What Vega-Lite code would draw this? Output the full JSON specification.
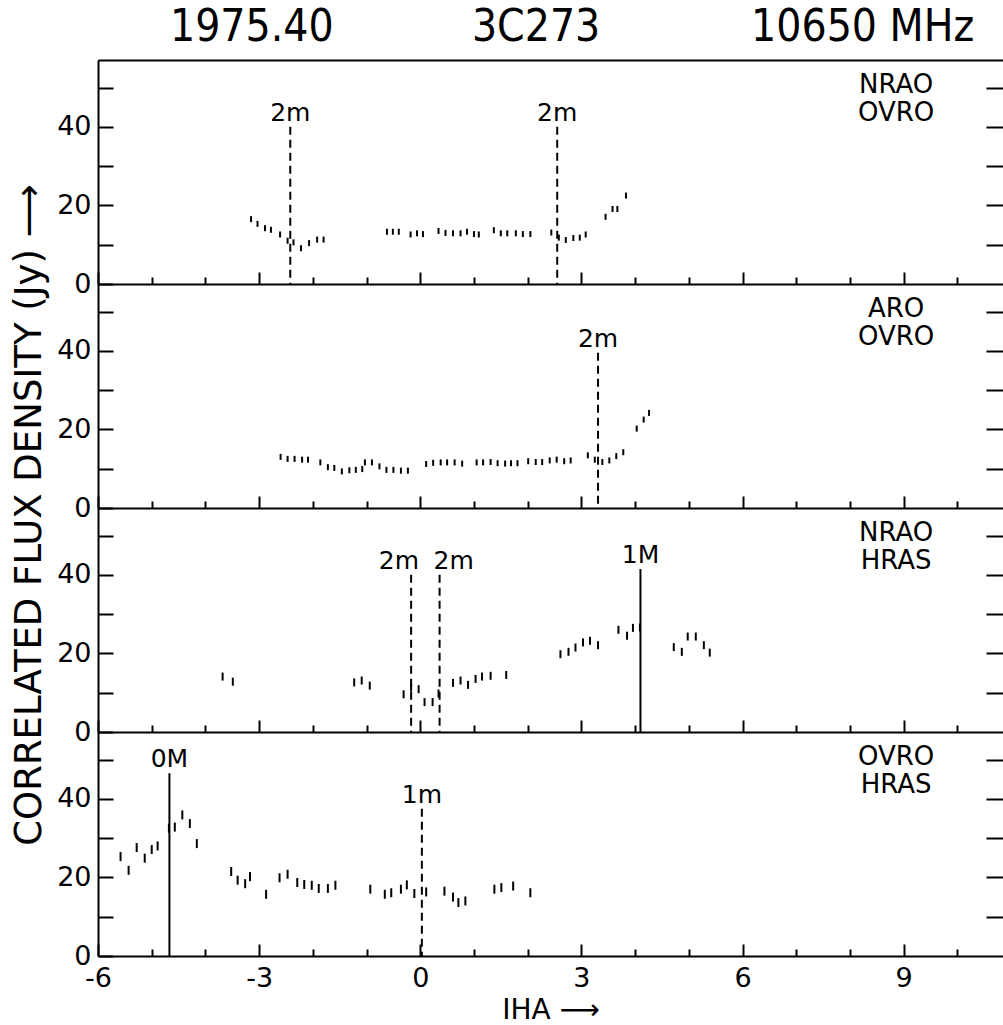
{
  "$schema": "https://vega.github.io/schema/vega-lite/v6.json",
  "padding": {"left": 10, "top": 6, "right": 0, "bottom": 0},
  "background": "white",
  "title": {"text": "CORRELATED FLUX DENSITY (Jy) \u27f6", "orient": "left", "anchor": "middle", "frame": "bounds", "fontSize": 37, "font": "DejaVu Sans", "fontWeight": "normal", "color": "black", "offset": 8},
  "spacing": 0,
  "bounds": "flush",
  "vconcat": [
    {
      "title": {"text": "1975.40\u00a0\u00a0\u00a0\u00a0\u00a0\u00a0\u00a0\u00a0\u00a0\u00a0\u00a03C273\u00a0\u00a0\u00a0\u00a0\u00a0\u00a0\u00a0\u00a0\u00a0\u00a0\u00a0\u00a010650 MHz", "anchor": "start", "frame": "group", "fontSize": 44, "font": "DejaVu Sans Condensed, DejaVu Sans", "fontWeight": "normal", "color": "black", "offset": 10, "dx": 72},
      "width": 905, "height": 224,
      "layer": [
        {"data": {"name": "obs"}, "transform": [{"filter": {"field": "baseline", "equal": "NRAO-OVRO"}}],
         "mark": {"type": "tick", "orient": "vertical", "size": 6, "thickness": 2, "color": "black", "opacity": 1},
         "encoding": {
           "x": {"field": "iha", "type": "quantitative", "scale": {"domain": [-6, 10.85], "nice": false, "zero": false},
                 "axis": {"orient": "bottom", "values": [-6,-5,-4,-3,-2,-1,0,1,2,3,4,5,6,7,8,9,10], "tickSize": {"condition": {"test": "datum.value % 3 === 0", "value": -12}, "value": -7}, "labels": false, "title": null}},
           "y": {"field": "jy", "type": "quantitative", "scale": {"domain": [0, 57], "nice": false},
                 "axis": {"orient": "left", "values": [0,10,20,30,40,50], "tickSize": -15, "labelExpr": "datum.value % 20 === 0 ? '' + datum.value : ''", "labelPadding": 22, "title": null}}
         }},
        {"data": {"name": "markers"}, "transform": [{"filter": {"field": "baseline", "equal": "NRAO-OVRO"}}],
         "mark": {"type": "rule", "strokeWidth": 2, "color": "black"},
         "encoding": {
           "x": {"field": "iha", "type": "quantitative", "axis": {"orient": "top", "ticks": false, "labels": false, "domain": true, "title": null}},
           "y": {"field": "top", "type": "quantitative", "axis": {"orient": "right", "values": [10,20,30,40,50], "tickSize": -17, "labels": false, "domain": false, "title": null}},
           "y2": {"datum": 0},
           "strokeDash": {"field": "kind", "type": "nominal", "scale": {"domain": ["minor", "major"], "range": [[8, 5], [1, 0]]}, "legend": null}
         }},
        {"data": {"name": "markers"}, "transform": [{"filter": {"field": "baseline", "equal": "NRAO-OVRO"}}],
         "mark": {"type": "text", "baseline": "alphabetic", "dy": -6, "fontSize": 25, "font": "DejaVu Sans", "color": "black"},
         "encoding": {"x": {"field": "iha", "type": "quantitative", "axis": null}, "y": {"field": "top", "type": "quantitative", "axis": null}, "text": {"field": "label"}}},
        {"data": {"values": [{"stations": "NRAO\nOVRO"}]},
         "mark": {"type": "text", "align": "center", "baseline": "top", "lineBreak": "\n", "lineHeight": 28, "fontSize": 26, "font": "DejaVu Sans", "color": "black"},
         "encoding": {"x": {"datum": 8.86, "axis": null}, "y": {"datum": 54, "axis": null}, "text": {"field": "stations"}}}
      ],
      "resolve": {"axis": {"x": "independent", "y": "independent"}}
    },
    {
      "width": 905, "height": 224,
      "layer": [
        {"data": {"name": "obs"}, "transform": [{"filter": {"field": "baseline", "equal": "ARO-OVRO"}}],
         "mark": {"type": "tick", "orient": "vertical", "size": 6, "thickness": 2, "color": "black", "opacity": 1},
         "encoding": {
           "x": {"field": "iha", "type": "quantitative", "scale": {"domain": [-6, 10.85], "nice": false, "zero": false},
                 "axis": {"orient": "bottom", "values": [-6,-5,-4,-3,-2,-1,0,1,2,3,4,5,6,7,8,9,10], "tickSize": {"condition": {"test": "datum.value % 3 === 0", "value": -12}, "value": -7}, "labels": false, "title": null}},
           "y": {"field": "jy", "type": "quantitative", "scale": {"domain": [0, 57], "nice": false},
                 "axis": {"orient": "left", "values": [0,10,20,30,40,50], "tickSize": -15, "labelExpr": "datum.value % 20 === 0 ? '' + datum.value : ''", "labelPadding": 22, "title": null}}
         }},
        {"data": {"name": "markers"}, "transform": [{"filter": {"field": "baseline", "equal": "ARO-OVRO"}}],
         "mark": {"type": "rule", "strokeWidth": 2, "color": "black"},
         "encoding": {
           "x": {"field": "iha", "type": "quantitative", "axis": null},
           "y": {"field": "top", "type": "quantitative", "axis": {"orient": "right", "values": [10,20,30,40,50], "tickSize": -17, "labels": false, "domain": false, "title": null}},
           "y2": {"datum": 0},
           "strokeDash": {"field": "kind", "type": "nominal", "scale": {"domain": ["minor", "major"], "range": [[8, 5], [1, 0]]}, "legend": null}
         }},
        {"data": {"name": "markers"}, "transform": [{"filter": {"field": "baseline", "equal": "ARO-OVRO"}}],
         "mark": {"type": "text", "baseline": "alphabetic", "dy": -6, "fontSize": 25, "font": "DejaVu Sans", "color": "black"},
         "encoding": {"x": {"field": "iha", "type": "quantitative", "axis": null}, "y": {"field": "top", "type": "quantitative", "axis": null}, "text": {"field": "label"}}},
        {"data": {"values": [{"stations": "ARO\nOVRO"}]},
         "mark": {"type": "text", "align": "center", "baseline": "top", "lineBreak": "\n", "lineHeight": 28, "fontSize": 26, "font": "DejaVu Sans", "color": "black"},
         "encoding": {"x": {"datum": 8.86, "axis": null}, "y": {"datum": 54, "axis": null}, "text": {"field": "stations"}}}
      ],
      "resolve": {"axis": {"x": "independent", "y": "independent"}}
    },
    {
      "width": 905, "height": 224,
      "layer": [
        {"data": {"name": "obs"}, "transform": [{"filter": {"field": "baseline", "equal": "NRAO-HRAS"}}],
         "mark": {"type": "tick", "orient": "vertical", "size": 8, "thickness": 2, "color": "black", "opacity": 1},
         "encoding": {
           "x": {"field": "iha", "type": "quantitative", "scale": {"domain": [-6, 10.85], "nice": false, "zero": false},
                 "axis": {"orient": "bottom", "values": [-6,-5,-4,-3,-2,-1,0,1,2,3,4,5,6,7,8,9,10], "tickSize": {"condition": {"test": "datum.value % 3 === 0", "value": -12}, "value": -7}, "labels": false, "title": null}},
           "y": {"field": "jy", "type": "quantitative", "scale": {"domain": [0, 57], "nice": false},
                 "axis": {"orient": "left", "values": [0,10,20,30,40,50], "tickSize": -15, "labelExpr": "datum.value % 20 === 0 ? '' + datum.value : ''", "labelPadding": 22, "title": null}}
         }},
        {"data": {"name": "markers"}, "transform": [{"filter": {"field": "baseline", "equal": "NRAO-HRAS"}}],
         "mark": {"type": "rule", "strokeWidth": 2, "color": "black"},
         "encoding": {
           "x": {"field": "iha", "type": "quantitative", "axis": null},
           "y": {"field": "top", "type": "quantitative", "axis": {"orient": "right", "values": [10,20,30,40,50], "tickSize": -17, "labels": false, "domain": false, "title": null}},
           "y2": {"datum": 0},
           "strokeDash": {"field": "kind", "type": "nominal", "scale": {"domain": ["minor", "major"], "range": [[8, 5], [1, 0]]}, "legend": null}
         }},
        {"data": {"name": "markers"}, "transform": [{"filter": {"field": "baseline", "equal": "NRAO-HRAS"}}, {"filter": "datum.iha < 0"}],
         "mark": {"type": "text", "align": "right", "dx": 8, "baseline": "alphabetic", "dy": -6, "fontSize": 25, "font": "DejaVu Sans", "color": "black"},
         "encoding": {"x": {"field": "iha", "type": "quantitative", "axis": null}, "y": {"field": "top", "type": "quantitative", "axis": null}, "text": {"field": "label"}}},
        {"data": {"name": "markers"}, "transform": [{"filter": {"field": "baseline", "equal": "NRAO-HRAS"}}, {"filter": "datum.iha >= 0 && datum.iha < 1"}],
         "mark": {"type": "text", "align": "left", "dx": -6, "baseline": "alphabetic", "dy": -6, "fontSize": 25, "font": "DejaVu Sans", "color": "black"},
         "encoding": {"x": {"field": "iha", "type": "quantitative", "axis": null}, "y": {"field": "top", "type": "quantitative", "axis": null}, "text": {"field": "label"}}},
        {"data": {"name": "markers"}, "transform": [{"filter": {"field": "baseline", "equal": "NRAO-HRAS"}}, {"filter": "datum.iha >= 1"}],
         "mark": {"type": "text", "baseline": "alphabetic", "dy": -6, "fontSize": 25, "font": "DejaVu Sans", "color": "black"},
         "encoding": {"x": {"field": "iha", "type": "quantitative", "axis": null}, "y": {"field": "top", "type": "quantitative", "axis": null}, "text": {"field": "label"}}},
        {"data": {"values": [{"stations": "NRAO\nHRAS"}]},
         "mark": {"type": "text", "align": "center", "baseline": "top", "lineBreak": "\n", "lineHeight": 28, "fontSize": 26, "font": "DejaVu Sans", "color": "black"},
         "encoding": {"x": {"datum": 8.86, "axis": null}, "y": {"datum": 54, "axis": null}, "text": {"field": "stations"}}}
      ],
      "resolve": {"axis": {"x": "independent", "y": "independent"}}
    },
    {
      "width": 905, "height": 224,
      "layer": [
        {"data": {"name": "obs"}, "transform": [{"filter": {"field": "baseline", "equal": "OVRO-HRAS"}}],
         "mark": {"type": "tick", "orient": "vertical", "size": 9, "thickness": 2, "color": "black", "opacity": 1},
         "encoding": {
           "x": {"field": "iha", "type": "quantitative", "scale": {"domain": [-6, 10.85], "nice": false, "zero": false},
                 "axis": {"orient": "bottom", "values": [-6,-5,-4,-3,-2,-1,0,1,2,3,4,5,6,7,8,9,10], "tickSize": {"condition": {"test": "datum.value % 3 === 0", "value": -12}, "value": -7}, "labels": true, "labelExpr": "datum.value % 3 === 0 ? '' + datum.value : ''", "labelFlush": false, "labelOverlap": false, "labelPadding": 21, "title": "IHA \u27f6", "titlePadding": 0, "titleFontSize": 28, "titleFont": "DejaVu Sans"}},
           "y": {"field": "jy", "type": "quantitative", "scale": {"domain": [0, 57], "nice": false},
                 "axis": {"orient": "left", "values": [0,10,20,30,40,50], "tickSize": -15, "labelExpr": "datum.value % 20 === 0 ? '' + datum.value : ''", "labelPadding": 22, "title": null}}
         }},
        {"data": {"name": "markers"}, "transform": [{"filter": {"field": "baseline", "equal": "OVRO-HRAS"}}],
         "mark": {"type": "rule", "strokeWidth": 2, "color": "black"},
         "encoding": {
           "x": {"field": "iha", "type": "quantitative", "axis": null},
           "y": {"field": "top", "type": "quantitative", "axis": {"orient": "right", "values": [10,20,30,40,50], "tickSize": -17, "labels": false, "domain": false, "title": null}},
           "y2": {"datum": 0},
           "strokeDash": {"field": "kind", "type": "nominal", "scale": {"domain": ["minor", "major"], "range": [[8, 5], [1, 0]]}, "legend": null}
         }},
        {"data": {"name": "markers"}, "transform": [{"filter": {"field": "baseline", "equal": "OVRO-HRAS"}}],
         "mark": {"type": "text", "baseline": "alphabetic", "dy": -6, "fontSize": 25, "font": "DejaVu Sans", "color": "black"},
         "encoding": {"x": {"field": "iha", "type": "quantitative", "axis": null}, "y": {"field": "top", "type": "quantitative", "axis": null}, "text": {"field": "label"}}},
        {"data": {"values": [{"stations": "OVRO\nHRAS"}]},
         "mark": {"type": "text", "align": "center", "baseline": "top", "lineBreak": "\n", "lineHeight": 28, "fontSize": 26, "font": "DejaVu Sans", "color": "black"},
         "encoding": {"x": {"datum": 8.86, "axis": null}, "y": {"datum": 54, "axis": null}, "text": {"field": "stations"}}}
      ],
      "resolve": {"axis": {"x": "independent", "y": "independent"}}
    }
  ],
  "datasets": {
    "obs": [
      {"baseline": "NRAO-OVRO", "iha": -3.15, "jy": 16.5},
      {"baseline": "NRAO-OVRO", "iha": -3.03, "jy": 15.3},
      {"baseline": "NRAO-OVRO", "iha": -2.89, "jy": 14.2},
      {"baseline": "NRAO-OVRO", "iha": -2.78, "jy": 13.8},
      {"baseline": "NRAO-OVRO", "iha": -2.61, "jy": 12.6},
      {"baseline": "NRAO-OVRO", "iha": -2.47, "jy": 11.0},
      {"baseline": "NRAO-OVRO", "iha": -2.36, "jy": 10.6},
      {"baseline": "NRAO-OVRO", "iha": -2.22, "jy": 9.1},
      {"baseline": "NRAO-OVRO", "iha": -2.07, "jy": 10.4},
      {"baseline": "NRAO-OVRO", "iha": -1.92, "jy": 11.3},
      {"baseline": "NRAO-OVRO", "iha": -1.80, "jy": 11.3},
      {"baseline": "NRAO-OVRO", "iha": -0.62, "jy": 13.3},
      {"baseline": "NRAO-OVRO", "iha": -0.51, "jy": 13.3},
      {"baseline": "NRAO-OVRO", "iha": -0.40, "jy": 13.3},
      {"baseline": "NRAO-OVRO", "iha": -0.18, "jy": 12.6},
      {"baseline": "NRAO-OVRO", "iha": -0.06, "jy": 12.9},
      {"baseline": "NRAO-OVRO", "iha": 0.05, "jy": 12.7},
      {"baseline": "NRAO-OVRO", "iha": 0.34, "jy": 13.5},
      {"baseline": "NRAO-OVRO", "iha": 0.47, "jy": 13.0},
      {"baseline": "NRAO-OVRO", "iha": 0.61, "jy": 12.9},
      {"baseline": "NRAO-OVRO", "iha": 0.75, "jy": 12.9},
      {"baseline": "NRAO-OVRO", "iha": 0.87, "jy": 13.3},
      {"baseline": "NRAO-OVRO", "iha": 1.00, "jy": 12.7},
      {"baseline": "NRAO-OVRO", "iha": 1.09, "jy": 12.6},
      {"baseline": "NRAO-OVRO", "iha": 1.37, "jy": 13.7},
      {"baseline": "NRAO-OVRO", "iha": 1.50, "jy": 12.9},
      {"baseline": "NRAO-OVRO", "iha": 1.62, "jy": 12.9},
      {"baseline": "NRAO-OVRO", "iha": 1.78, "jy": 12.9},
      {"baseline": "NRAO-OVRO", "iha": 1.91, "jy": 12.7},
      {"baseline": "NRAO-OVRO", "iha": 2.05, "jy": 12.7},
      {"baseline": "NRAO-OVRO", "iha": 2.44, "jy": 13.1},
      {"baseline": "NRAO-OVRO", "iha": 2.58, "jy": 11.8},
      {"baseline": "NRAO-OVRO", "iha": 2.71, "jy": 11.2},
      {"baseline": "NRAO-OVRO", "iha": 2.85, "jy": 11.7},
      {"baseline": "NRAO-OVRO", "iha": 2.97, "jy": 11.8},
      {"baseline": "NRAO-OVRO", "iha": 3.08, "jy": 12.6},
      {"baseline": "NRAO-OVRO", "iha": 3.45, "jy": 17.1},
      {"baseline": "NRAO-OVRO", "iha": 3.58, "jy": 19.1},
      {"baseline": "NRAO-OVRO", "iha": 3.67, "jy": 19.1},
      {"baseline": "NRAO-OVRO", "iha": 3.83, "jy": 22.5},
      {"baseline": "ARO-OVRO", "iha": -2.60, "jy": 13.0},
      {"baseline": "ARO-OVRO", "iha": -2.47, "jy": 12.5},
      {"baseline": "ARO-OVRO", "iha": -2.34, "jy": 12.5},
      {"baseline": "ARO-OVRO", "iha": -2.20, "jy": 12.3},
      {"baseline": "ARO-OVRO", "iha": -2.09, "jy": 12.3},
      {"baseline": "ARO-OVRO", "iha": -1.86, "jy": 11.6},
      {"baseline": "ARO-OVRO", "iha": -1.72, "jy": 10.4},
      {"baseline": "ARO-OVRO", "iha": -1.60, "jy": 10.2},
      {"baseline": "ARO-OVRO", "iha": -1.46, "jy": 9.3},
      {"baseline": "ARO-OVRO", "iha": -1.32, "jy": 9.6},
      {"baseline": "ARO-OVRO", "iha": -1.20, "jy": 9.7},
      {"baseline": "ARO-OVRO", "iha": -1.08, "jy": 9.9},
      {"baseline": "ARO-OVRO", "iha": -1.03, "jy": 11.6},
      {"baseline": "ARO-OVRO", "iha": -0.90, "jy": 11.6},
      {"baseline": "ARO-OVRO", "iha": -0.76, "jy": 10.6},
      {"baseline": "ARO-OVRO", "iha": -0.63, "jy": 9.7},
      {"baseline": "ARO-OVRO", "iha": -0.50, "jy": 9.7},
      {"baseline": "ARO-OVRO", "iha": -0.36, "jy": 9.5},
      {"baseline": "ARO-OVRO", "iha": -0.23, "jy": 9.5},
      {"baseline": "ARO-OVRO", "iha": 0.11, "jy": 11.2},
      {"baseline": "ARO-OVRO", "iha": 0.24, "jy": 11.5},
      {"baseline": "ARO-OVRO", "iha": 0.38, "jy": 11.6},
      {"baseline": "ARO-OVRO", "iha": 0.50, "jy": 11.6},
      {"baseline": "ARO-OVRO", "iha": 0.64, "jy": 11.6},
      {"baseline": "ARO-OVRO", "iha": 0.78, "jy": 11.3},
      {"baseline": "ARO-OVRO", "iha": 1.05, "jy": 11.6},
      {"baseline": "ARO-OVRO", "iha": 1.17, "jy": 11.6},
      {"baseline": "ARO-OVRO", "iha": 1.31, "jy": 11.7},
      {"baseline": "ARO-OVRO", "iha": 1.44, "jy": 11.4},
      {"baseline": "ARO-OVRO", "iha": 1.58, "jy": 11.3},
      {"baseline": "ARO-OVRO", "iha": 1.69, "jy": 11.4},
      {"baseline": "ARO-OVRO", "iha": 1.81, "jy": 11.4},
      {"baseline": "ARO-OVRO", "iha": 2.01, "jy": 11.9},
      {"baseline": "ARO-OVRO", "iha": 2.15, "jy": 11.7},
      {"baseline": "ARO-OVRO", "iha": 2.27, "jy": 11.7},
      {"baseline": "ARO-OVRO", "iha": 2.41, "jy": 12.1},
      {"baseline": "ARO-OVRO", "iha": 2.54, "jy": 12.3},
      {"baseline": "ARO-OVRO", "iha": 2.68, "jy": 11.9},
      {"baseline": "ARO-OVRO", "iha": 2.80, "jy": 12.1},
      {"baseline": "ARO-OVRO", "iha": 3.12, "jy": 13.4},
      {"baseline": "ARO-OVRO", "iha": 3.25, "jy": 12.3},
      {"baseline": "ARO-OVRO", "iha": 3.39, "jy": 11.7},
      {"baseline": "ARO-OVRO", "iha": 3.52, "jy": 12.1},
      {"baseline": "ARO-OVRO", "iha": 3.65, "jy": 13.2},
      {"baseline": "ARO-OVRO", "iha": 3.78, "jy": 14.2},
      {"baseline": "ARO-OVRO", "iha": 4.03, "jy": 20.2},
      {"baseline": "ARO-OVRO", "iha": 4.16, "jy": 22.5},
      {"baseline": "ARO-OVRO", "iha": 4.26, "jy": 24.2},
      {"baseline": "NRAO-HRAS", "iha": -3.68, "jy": 14.1},
      {"baseline": "NRAO-HRAS", "iha": -3.49, "jy": 12.8},
      {"baseline": "NRAO-HRAS", "iha": -1.23, "jy": 12.6},
      {"baseline": "NRAO-HRAS", "iha": -1.09, "jy": 13.1},
      {"baseline": "NRAO-HRAS", "iha": -0.94, "jy": 11.8},
      {"baseline": "NRAO-HRAS", "iha": -0.31, "jy": 9.6},
      {"baseline": "NRAO-HRAS", "iha": -0.17, "jy": 11.3},
      {"baseline": "NRAO-HRAS", "iha": -0.03, "jy": 10.9},
      {"baseline": "NRAO-HRAS", "iha": 0.08, "jy": 7.6},
      {"baseline": "NRAO-HRAS", "iha": 0.23, "jy": 7.6},
      {"baseline": "NRAO-HRAS", "iha": 0.34, "jy": 9.8},
      {"baseline": "NRAO-HRAS", "iha": 0.61, "jy": 12.5},
      {"baseline": "NRAO-HRAS", "iha": 0.75, "jy": 13.1},
      {"baseline": "NRAO-HRAS", "iha": 0.89, "jy": 12.0},
      {"baseline": "NRAO-HRAS", "iha": 1.03, "jy": 13.5},
      {"baseline": "NRAO-HRAS", "iha": 1.15, "jy": 14.1},
      {"baseline": "NRAO-HRAS", "iha": 1.31, "jy": 14.3},
      {"baseline": "NRAO-HRAS", "iha": 1.60, "jy": 14.5},
      {"baseline": "NRAO-HRAS", "iha": 2.61, "jy": 19.8},
      {"baseline": "NRAO-HRAS", "iha": 2.76, "jy": 20.4},
      {"baseline": "NRAO-HRAS", "iha": 2.89, "jy": 21.5},
      {"baseline": "NRAO-HRAS", "iha": 3.03, "jy": 22.8},
      {"baseline": "NRAO-HRAS", "iha": 3.16, "jy": 23.2},
      {"baseline": "NRAO-HRAS", "iha": 3.31, "jy": 22.1},
      {"baseline": "NRAO-HRAS", "iha": 3.69, "jy": 26.0},
      {"baseline": "NRAO-HRAS", "iha": 3.85, "jy": 24.5},
      {"baseline": "NRAO-HRAS", "iha": 3.96, "jy": 26.5},
      {"baseline": "NRAO-HRAS", "iha": 4.09, "jy": 26.6},
      {"baseline": "NRAO-HRAS", "iha": 4.72, "jy": 21.6},
      {"baseline": "NRAO-HRAS", "iha": 4.87, "jy": 20.4},
      {"baseline": "NRAO-HRAS", "iha": 4.98, "jy": 24.3},
      {"baseline": "NRAO-HRAS", "iha": 5.13, "jy": 24.3},
      {"baseline": "NRAO-HRAS", "iha": 5.28, "jy": 22.1},
      {"baseline": "NRAO-HRAS", "iha": 5.39, "jy": 20.2},
      {"baseline": "OVRO-HRAS", "iha": -5.58, "jy": 25.3},
      {"baseline": "OVRO-HRAS", "iha": -5.43, "jy": 21.8},
      {"baseline": "OVRO-HRAS", "iha": -5.28, "jy": 27.6},
      {"baseline": "OVRO-HRAS", "iha": -5.13, "jy": 24.9},
      {"baseline": "OVRO-HRAS", "iha": -5.00, "jy": 27.1},
      {"baseline": "OVRO-HRAS", "iha": -4.89, "jy": 28.0},
      {"baseline": "OVRO-HRAS", "iha": -4.68, "jy": 32.5},
      {"baseline": "OVRO-HRAS", "iha": -4.57, "jy": 32.8},
      {"baseline": "OVRO-HRAS", "iha": -4.43, "jy": 35.9},
      {"baseline": "OVRO-HRAS", "iha": -4.29, "jy": 33.7},
      {"baseline": "OVRO-HRAS", "iha": -4.16, "jy": 28.6},
      {"baseline": "OVRO-HRAS", "iha": -3.52, "jy": 21.5},
      {"baseline": "OVRO-HRAS", "iha": -3.40, "jy": 19.3},
      {"baseline": "OVRO-HRAS", "iha": -3.26, "jy": 18.4},
      {"baseline": "OVRO-HRAS", "iha": -3.17, "jy": 20.2},
      {"baseline": "OVRO-HRAS", "iha": -2.87, "jy": 15.7},
      {"baseline": "OVRO-HRAS", "iha": -2.62, "jy": 19.9},
      {"baseline": "OVRO-HRAS", "iha": -2.47, "jy": 20.8},
      {"baseline": "OVRO-HRAS", "iha": -2.29, "jy": 18.7},
      {"baseline": "OVRO-HRAS", "iha": -2.16, "jy": 18.2},
      {"baseline": "OVRO-HRAS", "iha": -2.02, "jy": 18.0},
      {"baseline": "OVRO-HRAS", "iha": -1.89, "jy": 17.2},
      {"baseline": "OVRO-HRAS", "iha": -1.72, "jy": 17.2},
      {"baseline": "OVRO-HRAS", "iha": -1.58, "jy": 18.0},
      {"baseline": "OVRO-HRAS", "iha": -0.93, "jy": 17.0},
      {"baseline": "OVRO-HRAS", "iha": -0.66, "jy": 15.7},
      {"baseline": "OVRO-HRAS", "iha": -0.54, "jy": 16.1},
      {"baseline": "OVRO-HRAS", "iha": -0.36, "jy": 17.0},
      {"baseline": "OVRO-HRAS", "iha": -0.25, "jy": 18.1},
      {"baseline": "OVRO-HRAS", "iha": -0.11, "jy": 15.9},
      {"baseline": "OVRO-HRAS", "iha": 0.11, "jy": 16.3},
      {"baseline": "OVRO-HRAS", "iha": 0.45, "jy": 16.5},
      {"baseline": "OVRO-HRAS", "iha": 0.61, "jy": 15.0},
      {"baseline": "OVRO-HRAS", "iha": 0.71, "jy": 13.6},
      {"baseline": "OVRO-HRAS", "iha": 0.84, "jy": 14.0},
      {"baseline": "OVRO-HRAS", "iha": 1.38, "jy": 17.0},
      {"baseline": "OVRO-HRAS", "iha": 1.51, "jy": 17.4},
      {"baseline": "OVRO-HRAS", "iha": 1.73, "jy": 17.8},
      {"baseline": "OVRO-HRAS", "iha": 2.05, "jy": 16.1}
    ],
    "markers": [
      {"baseline": "NRAO-OVRO", "iha": -2.42, "top": 40, "label": "2m", "kind": "minor"},
      {"baseline": "NRAO-OVRO", "iha": 2.55, "top": 40, "label": "2m", "kind": "minor"},
      {"baseline": "ARO-OVRO", "iha": 3.31, "top": 39.5, "label": "2m", "kind": "minor"},
      {"baseline": "NRAO-HRAS", "iha": -0.17, "top": 40, "label": "2m", "kind": "minor"},
      {"baseline": "NRAO-HRAS", "iha": 0.36, "top": 40, "label": "2m", "kind": "minor"},
      {"baseline": "NRAO-HRAS", "iha": 4.10, "top": 41.5, "label": "1M", "kind": "major"},
      {"baseline": "OVRO-HRAS", "iha": -4.67, "top": 46.5, "label": "0M", "kind": "major"},
      {"baseline": "OVRO-HRAS", "iha": 0.03, "top": 37.5, "label": "1m", "kind": "minor"}
    ]
  },
  "config": {
    "view": {"stroke": null},
    "font": "DejaVu Sans",
    "axis": {"domainColor": "black", "domainWidth": 2, "tickColor": "black", "tickWidth": 2, "labelColor": "black", "labelFont": "DejaVu Sans", "labelFontSize": 27, "labelFlush": false, "grid": false, "titleColor": "black", "titleFontWeight": "normal"}
  }
}
